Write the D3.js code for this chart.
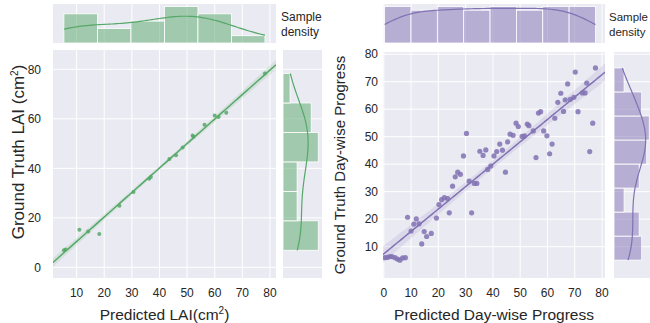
<!DOCTYPE html>
<html>
<head>
<meta charset="utf-8">
<script src="https://cdn.jsdelivr.net/npm/d3@7"></script>
<style>
  body { margin: 0; background: #fff; }
  svg text { font-family: "Liberation Sans", Arial, sans-serif; fill: #262626; }
  .tick-label { font-size: 12px; }
  .axis-title { font-size: 15.5px; }
</style>
</head>
<body>
<div id="chart"></div>
<script>
// --- LAI panel (left) ---
const laiPred = [5.4, 6.0, 11.0, 14.2, 18.2, 25.5, 30.6, 36.3, 36.9, 43.6,
  46.0, 48.4, 52.0, 52.3, 56.3, 60.0, 61.4, 64.2, 78.2];
const laiTrue = [6.9, 7.2, 15.2, 14.5, 13.5, 24.9, 30.4, 35.8, 36.5, 43.8,
  45.3, 48.4, 53.3, 52.8, 57.6, 61.3, 60.7, 62.5, 78.3];

// --- Day-wise progress panel (right) ---
const progPred = [0.3, 1.3, 2.2, 3.0, 4.1, 5.0, 5.9, 6.9, 7.9, 8.7,
  10.0, 11.0, 11.9, 12.9, 13.9, 14.8, 15.7, 17.4, 19.3,
  20.2, 21.2, 22.2, 23.4, 24.0, 25.2, 26.2, 27.1, 28.1, 29.2,
  30.3, 31.3, 32.2, 33.2, 34.1, 35.2, 36.4, 37.4, 38.1,
  39.2, 40.4, 41.4, 42.5, 43.5, 44.6, 45.4, 46.3, 47.4, 48.5,
  49.3, 50.7, 51.6, 52.6, 53.2, 54.8, 55.8, 56.7, 57.5,
  58.6, 59.8, 60.8, 61.7, 62.7, 63.8, 64.9, 65.9, 66.5, 67.4,
  68.4, 69.7, 70.2, 71.2, 72.8, 73.8, 74.4, 75.5, 76.6, 77.6];
const progTrue = [6.0, 6.1, 6.4, 6.4, 6.0, 5.5, 5.1, 5.9, 6.0, 20.7,
  15.7, 18.2, 20.1, 18.3, 11.0, 15.5, 13.7, 14.8, 20.4,
  25.3, 27.1, 27.8, 27.5, 22.3, 32.0, 35.4, 37.1, 36.3, 43.0,
  51.2, 33.8, 22.3, 33.0, 33.0, 44.7, 43.2, 45.2, 38.1,
  39.3, 43.0, 44.6, 47.3, 45.1, 37.1, 48.1, 50.9, 50.5, 54.9,
  53.7, 50.1, 50.3, 54.6, 54.0, 52.1, 42.4, 58.6, 59.1,
  52.1, 50.3, 43.8, 47.3, 56.7, 62.5, 65.8, 59.2, 63.4, 69.2,
  63.6, 64.3, 73.5, 59.1, 65.9, 65.9, 69.5, 44.6, 54.9, 75.0];

// tick labels
const laiXTicks = [10, 20, 30, 40, 50, 60, 70, 80];
const laiYTicks = [0, 20, 40, 60, 80];
const progXTicks = [0, 10, 20, 30, 40, 50, 60, 70, 80];
const progYTicks = [10, 20, 30, 40, 50, 60, 70, 80];

const W = 650, H = 323;
const BG = "#eaeaf2";

const svg = d3.select("#chart").append("svg")
  .attr("width", W)
  .attr("height", H);

// gaussian kde (scott bandwidth), evaluated over the data range only
function kdeCurve(vals, steps) {
  const n = vals.length;
  const bw = d3.deviation(vals) * Math.pow(n, -0.2);
  const [lo, hi] = d3.extent(vals);
  return d3.range(steps + 1).map(i => {
    const t = lo + (hi - lo) * i / steps;
    const dens = d3.sum(vals, v => Math.exp(-0.5 * ((t - v) / bw) ** 2)) / (n * bw * Math.sqrt(2 * Math.PI));
    return [t, dens];
  });
}

// least squares fit + 95% band
function fitLine(xs, ys) {
  const n = xs.length;
  const mx = d3.mean(xs), my = d3.mean(ys);
  let sxx = 0, sxy = 0;
  xs.forEach((v, i) => { sxx += (v - mx) ** 2; sxy += (v - mx) * (ys[i] - my); });
  const b = sxy / sxx, a = my - b * mx;
  const sse = d3.sum(xs, (v, i) => (ys[i] - a - b * v) ** 2);
  const s = Math.sqrt(sse / (n - 2));
  const tcrit = n < 30 ? 2.11 : 1.99;
  return {
    at: t => a + b * t,
    half: t => tcrit * s * Math.sqrt(1 / n + (t - mx) ** 2 / sxx)
  };
}

function makeBins(vals, nb) {
  const [lo, hi] = d3.extent(vals);
  const w = (hi - lo) / nb;
  const bins = d3.bin()
    .domain([lo, hi])
    .thresholds(d3.range(1, nb).map(i => lo + i * w))(vals);
  return { bins, w };
}

function drawJoint(p) {
  const g = svg.append("g").attr("class", "joint");

  const x = d3.scaleLinear().domain(p.xDomain).range([p.left, p.right]);
  const y = d3.scaleLinear().domain(p.yDomain).range([p.bottom, p.top]);

  // --- main panel ---
  g.append("rect")
    .attr("x", p.left).attr("y", p.top)
    .attr("width", p.right - p.left).attr("height", p.bottom - p.top)
    .attr("fill", BG);

  const clipId = "clip-" + p.id;
  g.append("clipPath").attr("id", clipId)
    .append("rect")
    .attr("x", p.left).attr("y", p.top)
    .attr("width", p.right - p.left).attr("height", p.bottom - p.top);

  g.append("g").selectAll("line").data(p.xTicks).enter().append("line")
    .attr("x1", d => x(d)).attr("x2", d => x(d))
    .attr("y1", p.top).attr("y2", p.bottom)
    .attr("stroke", "#fff").attr("stroke-width", 1);

  g.append("g").selectAll("line").data(p.yTicks).enter().append("line")
    .attr("x1", p.left).attr("x2", p.right)
    .attr("y1", d => y(d)).attr("y2", d => y(d))
    .attr("stroke", "#fff").attr("stroke-width", 1);

  // regression line + band
  const fit = fitLine(p.xs, p.ys);
  const grid = d3.range(101).map(i => p.xDomain[0] + (p.xDomain[1] - p.xDomain[0]) * i / 100);
  const plotArea = g.append("g").attr("clip-path", `url(#${clipId})`);

  plotArea.append("path")
    .datum(grid)
    .attr("fill", p.color)
    .attr("fill-opacity", 0.15)
    .attr("d", d3.area()
      .x(d => x(d))
      .y0(d => y(fit.at(d) - fit.half(d)))
      .y1(d => y(fit.at(d) + fit.half(d))));

  plotArea.append("g").selectAll("circle")
    .data(p.xs).enter().append("circle")
    .attr("cx", d => x(d))
    .attr("cy", (d, i) => y(p.ys[i]))
    .attr("r", p.r)
    .attr("fill", p.color)
    .attr("fill-opacity", 0.85);

  plotArea.append("path")
    .datum(grid)
    .attr("fill", "none")
    .attr("stroke", p.color)
    .attr("stroke-width", 1.5)
    .attr("d", d3.line().x(d => x(d)).y(d => y(fit.at(d))));

  // tick labels
  g.append("g").selectAll("text").data(p.xTicks).enter().append("text")
    .attr("class", "tick-label")
    .attr("x", d => x(d))
    .attr("y", p.bottom + 19)
    .attr("text-anchor", "middle")
    .text(d => d);

  g.append("g").selectAll("text").data(p.yTicks).enter().append("text")
    .attr("class", "tick-label")
    .attr("x", p.left - p.yTickGap)
    .attr("y", d => y(d) + 4.3)
    .attr("text-anchor", "end")
    .text(d => d);

  // axis titles
  const xt = g.append("text")
    .attr("class", "axis-title")
    .attr("x", (p.left + p.right) / 2)
    .attr("y", p.bottom + 42)
    .attr("text-anchor", "middle");
  p.xTitle.forEach(part => {
    xt.append("tspan").attr("dy", part.sup ? -6 : (part.after ? 6 : 0))
      .attr("font-size", part.sup ? "10px" : null).text(part.t);
  });

  const yt = g.append("text")
    .attr("class", "axis-title")
    .attr("transform", `translate(${p.yTitleX}, ${p.yTitleY}) rotate(-90)`)
    .attr("text-anchor", "middle")
    .style("font-size", p.yTitleSize + "px");
  p.yTitle.forEach(part => {
    yt.append("tspan").attr("dy", part.sup ? -6 : (part.after ? 6 : 0))
      .attr("font-size", part.sup ? "10px" : null).text(part.t);
  });

  // --- top marginal ---
  const hx = makeBins(p.xs, p.xBins);
  const my = d3.scaleLinear()
    .domain([0, d3.max(hx.bins, b => b.length) * 1.07])
    .range([p.margTopBottom, p.margTopTop]);

  g.append("rect")
    .attr("x", p.left).attr("y", p.margTopTop)
    .attr("width", p.right - p.left).attr("height", p.margTopBottom - p.margTopTop)
    .attr("fill", BG);

  g.append("g").selectAll("line").data(p.xTicks).enter().append("line")
    .attr("x1", d => x(d)).attr("x2", d => x(d))
    .attr("y1", p.margTopTop).attr("y2", p.margTopBottom)
    .attr("stroke", "#fff").attr("stroke-width", 1);

  g.append("g").selectAll("rect").data(hx.bins).enter().append("rect")
    .attr("x", d => x(d.x0))
    .attr("width", d => x(d.x1) - x(d.x0))
    .attr("y", d => my(d.length))
    .attr("height", d => my(0) - my(d.length))
    .attr("fill", p.color)
    .attr("fill-opacity", 0.5)
    .attr("stroke", "#fff")
    .attr("stroke-width", 0.8);

  const nx = p.xs.length;
  g.append("path")
    .datum(kdeCurve(p.xs, 80))
    .attr("fill", "none")
    .attr("stroke", p.color)
    .attr("stroke-width", 1.2)
    .attr("d", d3.line().x(d => x(d[0])).y(d => my(d[1] * nx * hx.w)));

  // --- right marginal ---
  const hy = makeBins(p.ys, p.yBins);
  const mx = d3.scaleLinear()
    .domain([0, d3.max(hy.bins, b => b.length) * 1.05])
    .range([p.margRightLeft, p.margRightLeft + p.margRightWidth]);

  g.append("rect")
    .attr("x", p.margRightLeft).attr("y", p.top)
    .attr("width", p.margRightWidth + 2).attr("height", p.bottom - p.top)
    .attr("fill", BG);

  g.append("g").selectAll("line").data(p.yTicks).enter().append("line")
    .attr("x1", p.margRightLeft).attr("x2", p.margRightLeft + p.margRightWidth + 2)
    .attr("y1", d => y(d)).attr("y2", d => y(d))
    .attr("stroke", "#fff").attr("stroke-width", 1);

  g.append("g").selectAll("rect").data(hy.bins).enter().append("rect")
    .attr("x", p.margRightLeft)
    .attr("width", d => mx(d.length) - mx(0))
    .attr("y", d => y(d.x1))
    .attr("height", d => y(d.x0) - y(d.x1))
    .attr("fill", p.color)
    .attr("fill-opacity", 0.5)
    .attr("stroke", "#fff")
    .attr("stroke-width", 0.8);

  const ny = p.ys.length;
  g.append("path")
    .datum(kdeCurve(p.ys, 80))
    .attr("fill", "none")
    .attr("stroke", p.color)
    .attr("stroke-width", 1.2)
    .attr("d", d3.line().x(d => mx(d[1] * ny * hy.w)).y(d => y(d[0])));

  // "Sample density" label
  const lab = g.append("text")
    .style("font-size", p.labSize + "px")
    .attr("x", p.labX)
    .attr("y", 21);
  lab.append("tspan").attr("x", p.labX).text("Sample");
  lab.append("tspan").attr("x", p.labX).attr("dy", 15).text("density");
}

// LAI
drawJoint({
  id: "lai",
  xs: laiPred, ys: laiTrue,
  color: "#55a868", r: 2,
  left: 53, right: 276, top: 50, bottom: 278,
  xDomain: [1.45, 82.2], yDomain: [-4.3, 87.8],
  xTicks: laiXTicks, yTicks: laiYTicks, yTickGap: 12,
  xBins: 6, yBins: 6,
  margTopTop: 4, margTopBottom: 43,
  margRightLeft: 283, margRightWidth: 37,
  labX: 281, labSize: 12,
  xTitle: [{ t: "Predicted LAI(cm" }, { t: "2", sup: true }, { t: ")", after: true }],
  yTitle: [{ t: "Ground Truth LAI (cm" }, { t: "2", sup: true }, { t: ")", after: true }],
  yTitleX: 24, yTitleY: 152, yTitleSize: 17
});

// Day-wise progress
drawJoint({
  id: "prog",
  xs: progPred, ys: progTrue,
  color: "#8172b3", r: 2.6,
  left: 383, right: 605, top: 52, bottom: 278,
  xDomain: [-0.3, 81.1], yDomain: [-1.4, 80.8],
  xTicks: progXTicks, yTicks: progYTicks, yTickGap: 5,
  xBins: 8, yBins: 8,
  margTopTop: 4, margTopBottom: 43,
  margRightLeft: 614, margRightWidth: 37,
  labX: 609, labSize: 11.5,
  xTitle: [{ t: "Predicted Day-wise Progress" }],
  yTitle: [{ t: "Ground Truth Day-wise Progress" }],
  yTitleX: 345, yTitleY: 165, yTitleSize: 15
});
</script>
</body>
</html>
